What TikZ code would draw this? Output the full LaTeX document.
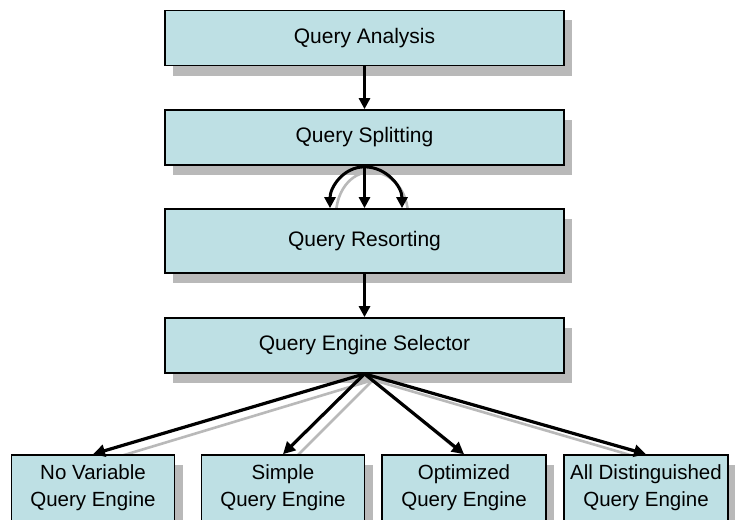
\documentclass[tikz,border=0pt]{standalone}
\usepackage{fontspec}
\setmainfont{Liberation Sans}
\usetikzlibrary{arrows.meta,shadows,positioning}
\definecolor{boxfill}{RGB}{190,224,228}
\definecolor{shadowgray}{RGB}{185,185,185}
\tikzset{
  stepbox/.style={draw=black, line width=1.7pt, fill=boxfill, rectangle,
    inner sep=0pt, align=center, minimum width=399pt, minimum height=55pt,
    font=\fontsize{21}{27}\selectfont,
    drop shadow={shadow xshift=8pt, shadow yshift=-10pt, fill=shadowgray, opacity=1}},
  enginebox/.style={stepbox, minimum width=163pt, minimum height=66pt,
    font=\fontsize{20.5}{27}\selectfont},
  flow/.style={draw=black, line width=3pt, -{Triangle[length=11pt,width=11pt]}},
  fan/.style={draw=black, line width=3.2pt, -{Triangle[length=12pt,width=12pt]}},
  ghost/.style={draw=shadowgray, line width=2.6pt}
}
\begin{document}
\begin{tikzpicture}[x=1pt,y=-1pt]
\clip (0,0) rectangle (735,519);
\fill[white] (0,0) rectangle (735,519);
% coordinates for arrow shadows
\coordinate (selb) at (365,373);
\coordinate (spb) at (365,166);
% arrow shadows
\draw[ghost] ([shift={(8,7)}]selb) -- ([shift={(8,7)}]93,455);
\draw[ghost] ([shift={(8,7)}]selb) -- ([shift={(8,7)}]283,455);
\draw[ghost] ([shift={(8,7)}]selb) -- ([shift={(8,7)}]464,455);
\draw[ghost] ([shift={(8,7)}]selb) -- ([shift={(8,7)}]646,455);
\draw[ghost] ([shift={(6,6)}]spb) to[out=180,in=90] ([shift={(6,6)}]330,209);
\draw[ghost] ([shift={(6,6)}]spb) to[out=0,in=90] ([shift={(6,6)}]402,209);
% boxes
\node[stepbox] (qa) at (364.5,38) {Query Analysis};
\node[stepbox] (qs) at (364.5,137.5) {Query Splitting};
\node[stepbox, minimum height=64pt] (qr) at (364.5,241) {Query Resorting};
\node[stepbox] (qe) at (364.5,345.5) {Query Engine Selector};
\node[enginebox] (nv) at (93,488) {No Variable\\Query Engine};
\node[enginebox] (sq) at (283,488) {Simple\\Query Engine};
\node[enginebox, minimum width=164pt] (oq) at (464,488) {Optimized\\Query Engine};
\node[enginebox, minimum width=164pt] (ad) at (646,488) {All Distinguished\\Query Engine};
% arrows
\draw[flow] (qa.south) -- (qs.north);
\draw[flow] (qs.south) -- (qr.north);
\draw[flow] ([yshift=-1pt]qs.south) to[out=180,in=90] (qr.north -| 330,0);
\draw[flow] ([yshift=-1pt]qs.south) to[out=0,in=90] (qr.north -| 402,0);
\draw[flow] (qr.south) -- (qe.north);
\draw[fan] (qe.south) -- (nv.north);
\draw[fan] (qe.south) -- (sq.north);
\draw[fan] (qe.south) -- (oq.north);
\draw[fan] (qe.south) -- (ad.north);
\end{tikzpicture}
\end{document}
